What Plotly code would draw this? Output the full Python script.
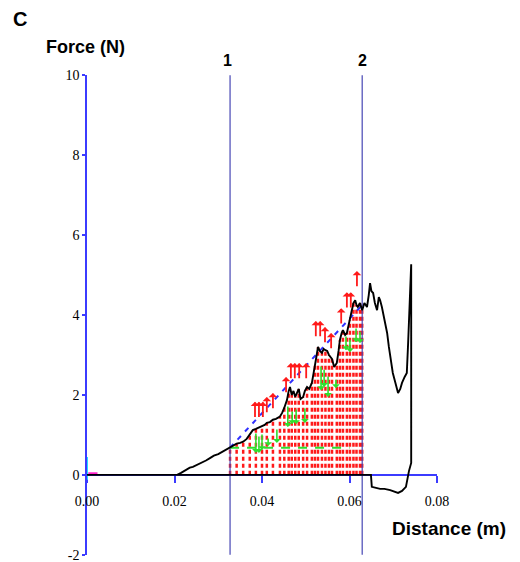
import plotly.graph_objects as go

# ---- data ----
distance = [0.000, 0.0206, 0.0215, 0.0225, 0.0235, 0.0242, 0.0252, 0.0262, 0.0272, 0.0281,
            0.0290, 0.0300, 0.0310, 0.0318, 0.0327, 0.0335, 0.0342, 0.0350, 0.0357, 0.0365,
            0.0372, 0.0379, 0.0386, 0.0393, 0.0400, 0.0406, 0.0411, 0.0418, 0.0425, 0.0432,
            0.0441, 0.0446, 0.0451, 0.0457, 0.0461, 0.0464, 0.0468, 0.0472, 0.0476, 0.0480,
            0.0484, 0.0488, 0.0494, 0.0498, 0.0503, 0.0508, 0.0514, 0.0518, 0.0521, 0.0525,
            0.0528, 0.0532, 0.0537, 0.0541, 0.0545, 0.0549, 0.0553, 0.0556, 0.0560, 0.0565,
            0.0571, 0.0575, 0.0578, 0.0582, 0.0585, 0.0590, 0.0594, 0.0598, 0.0601, 0.0605,
            0.0609, 0.0613, 0.0616, 0.0619, 0.0624, 0.0629,
            0.0634, 0.0640, 0.0644, 0.0647, 0.0650, 0.0654, 0.0658, 0.0663, 0.0667, 0.0670,
            0.0674, 0.0677, 0.0681, 0.0686, 0.0690, 0.0693, 0.0699, 0.0705, 0.0711, 0.0716,
            0.0720, 0.0726, 0.0731, 0.0734, 0.0738, 0.0741,
            0.0741, 0.0736, 0.0729, 0.0720, 0.0711, 0.0700, 0.0693, 0.0680, 0.0670, 0.0651,
            0.0649, 0.000]
force = [0.00, 0.00, 0.05, 0.12, 0.18, 0.20, 0.25, 0.30, 0.36, 0.42,
         0.48, 0.52, 0.58, 0.62, 0.68, 0.72, 0.78, 0.80, 0.83, 0.90,
         1.00, 1.12, 1.15, 1.18, 1.22, 1.25, 1.30, 1.32, 1.38, 1.40,
         1.46, 1.55, 1.68, 1.87, 2.10, 2.20, 2.00, 2.10, 1.95, 2.05,
         2.15, 1.90, 1.95, 2.10, 2.20, 2.15, 2.30, 2.55, 2.80, 3.00,
         3.20, 3.10, 3.05, 3.15, 3.12, 3.10, 3.00, 2.95, 2.90, 2.70,
         2.80, 3.10, 3.37, 3.55, 3.62, 3.50, 3.55, 3.75, 3.87, 4.10,
         4.30, 4.37, 4.25, 4.20, 4.30, 4.12,
         4.30, 4.20, 4.50, 4.80, 4.60, 4.55, 4.30, 4.12, 4.45, 4.37,
         4.20, 4.05, 3.85, 3.55, 3.20, 2.95, 2.55, 2.30, 2.05, 2.15,
         2.30, 2.45, 2.55, 3.30, 4.45, 5.27,
         0.30, 0.10, -0.30, -0.40, -0.45, -0.40, -0.38, -0.35, -0.35, -0.30,
         0.00, 0.00]

marker_x = [0.0327, 0.0629]
marker_labels = ["1", "2"]

fit_x = [0.0327, 0.0629]
fit_y = [0.68, 4.25]

base_level_x = [0.0327, 0.0600]
base_level_y = [0.68, 0.68]

red_x = [0.0384, 0.0393, 0.0402, 0.0411, 0.0425, 0.0455, 0.0466, 0.0475, 0.0485, 0.0501,
         0.0523, 0.0533, 0.0544, 0.0558, 0.0581, 0.0594, 0.0603, 0.0617]
red_top = [1.83, 1.83, 1.83, 1.95, 2.05, 2.45, 2.80, 2.80, 2.80, 2.80,
           3.85, 3.85, 3.70, 3.55, 4.17, 4.57, 4.57, 5.10]
red_len = 0.42

green_x = [0.0386, 0.0393, 0.0400, 0.0414, 0.0434, 0.0459, 0.0469, 0.0478, 0.0498,
           0.0535, 0.0542, 0.0551, 0.0569, 0.0592, 0.0601, 0.0615, 0.0624]
green_top = [1.07, 1.00, 1.05, 0.95, 1.17, 1.75, 1.62, 1.67, 1.70,
             2.75, 2.67, 2.50, 2.42, 3.50, 3.42, 3.70, 3.62]
green_bottom = [0.55, 0.55, 0.62, 0.72, 0.80, 1.20, 1.27, 1.27, 1.30,
                2.12, 2.20, 1.95, 2.17, 3.12, 3.07, 3.32, 3.30]

x_ticks = [0.00, 0.02, 0.04, 0.06, 0.08]
y_ticks = [-2, 0, 2, 4, 6, 8, 10]
y_tick_labels = ["-2", "0", "2", "4", "6", "8", "10"]

assert len(distance) == len(force)

AXIS_BLUE = "#3b3bff"
LINE_BLUE = "#4646b4"
RED = "#ff1a1a"
GREEN = "#2ee02e"

fig = go.Figure()

# hatched work area between markers 1 and 2: dashed verticals at measured points
peak_idx = force.index(max(force))
sel = [(d, f) for d, f in zip(distance[:peak_idx], force[:peak_idx])
       if marker_x[0] <= d <= marker_x[1]]
hatch_x, hatch_y = [], []
for i, (d, f) in enumerate(sel):
    if i % 2 == 0 or i == len(sel) - 1:
        hatch_x += [d, d, None]
        hatch_y += [0, f, None]
fig.add_trace(go.Scatter(x=hatch_x, y=hatch_y, mode="lines",
                         line=dict(color=RED, width=2.5, dash="4px,3px"),
                         hoverinfo="skip", showlegend=False))

# marker lines 1 and 2
for mx in marker_x:
    fig.add_trace(go.Scatter(x=[mx, mx], y=[-2, 10], mode="lines",
                             line=dict(color=LINE_BLUE, width=1.2),
                             hoverinfo="skip", showlegend=False))

# green base level
fig.add_trace(go.Scatter(x=base_level_x, y=base_level_y, mode="lines",
                         line=dict(color=GREEN, width=2, dash="9px,8px"),
                         hoverinfo="skip", showlegend=False))

# blue dashed fit line
fig.add_trace(go.Scatter(x=fit_x, y=fit_y, mode="lines",
                         line=dict(color="#3030ff", width=2, dash="5px,6px"),
                         hoverinfo="skip", showlegend=False))

# small markers at the origin
fig.add_trace(go.Scatter(x=[0, 0], y=[0.45, -0.12], mode="lines",
                         line=dict(color="#22ddff", width=2), hoverinfo="skip", showlegend=False))
fig.add_trace(go.Scatter(x=[0.0003, 0.0024], y=[0.04, 0.04], mode="lines",
                         line=dict(color="#ff22cc", width=2), hoverinfo="skip", showlegend=False))

# force-distance curve
fig.add_trace(go.Scatter(x=distance, y=force, mode="lines",
                         line=dict(color="black", width=1.9),
                         hoverinfo="skip", showlegend=False))

annotations = []
for x, t in zip(red_x, red_top):
    annotations.append(dict(x=x, y=t, ax=x, ay=t - red_len, xref="x", yref="y",
                            axref="x", ayref="y", showarrow=True, arrowhead=1,
                            arrowsize=0.8, arrowwidth=1.8, arrowcolor=RED, text=""))
for x, t, b in zip(green_x, green_top, green_bottom):
    annotations.append(dict(x=x, y=b, ax=x, ay=t, xref="x", yref="y",
                            axref="x", ayref="y", showarrow=True, arrowhead=1,
                            arrowsize=0.8, arrowwidth=1.6, arrowcolor=GREEN, text=""))

bold = dict(family="Liberation Sans, Arial", color="black")


def label(x, y, text, size):
    return dict(x=x, y=y, xref="paper", yref="paper", text="<b>%s</b>" % text,
                showarrow=False, xanchor="center", yanchor="middle",
                font=dict(size=size, **bold))


label_px = [0.4, 0.788]
for px, lab in zip(label_px, marker_labels):
    annotations.append(label(px, 1.031, lab, 16))
annotations.append(label(-0.191, 1.117, "C", 20))
annotations.append(label(-0.003, 1.058, "Force (N)", 18))
annotations.append(label(1.034, 0.056, "Distance (m)", 19))

tick_font = dict(family="Liberation Serif, Times New Roman", size=14, color="black")

fig.update_layout(
    width=520, height=562, autosize=False,
    margin=dict(l=87, r=83, t=75, b=7, pad=0),
    plot_bgcolor="white", paper_bgcolor="white",
    showlegend=False,
    annotations=annotations,
    xaxis=dict(range=[0, 0.08], tickvals=x_ticks, tickformat=".2f",
               showgrid=False, zeroline=False, showline=True, linecolor=AXIS_BLUE,
               linewidth=1.5, ticks="outside", ticklen=7, tickwidth=1.5,
               tickcolor=AXIS_BLUE, tickfont=tick_font, anchor="free",
               position=2 / 12, layer="below traces", automargin=False,
               ticklabelstandoff=6, ticklabeloverflow="allow"),
    yaxis=dict(range=[-2.005, 10.005], tickvals=y_ticks, ticktext=y_tick_labels,
               showgrid=False, zeroline=False,
               showline=True, linecolor=AXIS_BLUE, linewidth=1.5, ticks="outside",
               ticklen=3, tickwidth=1.5, tickcolor=AXIS_BLUE, tickfont=tick_font,
               layer="below traces", automargin=False, ticklabeloverflow="allow"),
)

fig.write_html("out.html", config={"displayModeBar": False},
               post_script="document.body.style.margin='0px';")
